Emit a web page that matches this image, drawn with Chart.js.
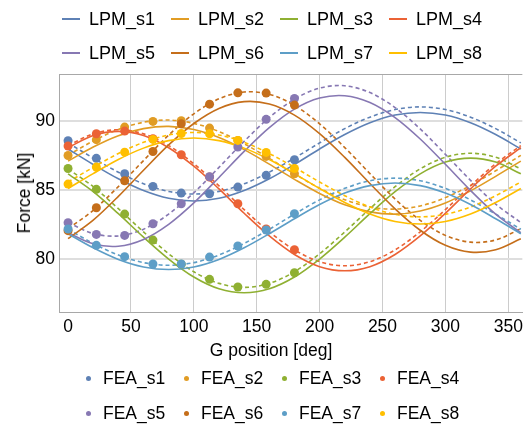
<!DOCTYPE html>
<html>
<head>
<meta charset="utf-8">
<script src="https://cdn.jsdelivr.net/npm/chart.js@4.4.1/dist/chart.umd.min.js"></script>
<style>
  html, body { margin: 0; padding: 0; background: #fff; }
  #wrap { position: relative; width: 528px; height: 426px; overflow: hidden; font-family: "Liberation Sans", Arial, sans-serif; color: #000; }
  #c { position: absolute; left: 0; top: 0; }
  .lg { position: absolute; white-space: nowrap; }
  .txt { position: absolute; height: 22px; line-height: 22px; white-space: nowrap; }
</style>
</head>
<body>
<div id="wrap">
  <canvas id="c" width="528" height="426"></canvas>
</div>
<script>
// ---------------- data ----------------
const seriesNames = ["s1", "s2", "s3", "s4", "s5", "s6", "s7", "s8"];
const colors = ["#5E81B5", "#E19C24", "#8FB032", "#EB6235", "#8778B3", "#C56E1A", "#5D9EC7", "#FFBF00"];

const xTicks = [0, 50, 100, 150, 200, 250, 300, 350];
const yTicks = [80, 85, 90];

const lineDeg = [0, 20, 40, 60, 80, 100, 120, 140, 160, 180, 200, 220, 240, 260, 280, 300, 320, 340, 360];

// LPM (solid lines)
const lpm_s1 = [87.96, 86.84, 85.80, 84.95, 84.39, 84.20, 84.39, 84.95, 85.80, 86.84, 87.96, 89.00, 89.85, 90.41, 90.60, 90.41, 89.85, 89.00, 87.96];
const lpm_s2 = [87.08, 88.10, 88.92, 89.43, 89.59, 89.36, 88.78, 87.91, 86.86, 85.76, 84.74, 83.92, 83.41, 83.25, 83.48, 84.06, 84.93, 85.98, 87.08];
const lpm_s3 = [86.16, 84.87, 83.28, 81.58, 80.00, 78.70, 77.85, 77.56, 77.85, 78.70, 80.00, 81.58, 83.28, 84.87, 86.16, 87.01, 87.30, 87.01, 86.16];
const lpm_s4 = [88.05, 88.93, 89.23, 88.93, 88.05, 86.71, 85.07, 83.31, 81.67, 80.33, 79.45, 79.15, 79.45, 80.33, 81.67, 83.31, 85.07, 86.71, 88.05];
const lpm_s5 = [81.90, 81.10, 80.93, 81.42, 82.51, 84.06, 85.90, 87.78, 89.50, 90.84, 91.64, 91.81, 91.32, 90.23, 88.68, 86.85, 84.96, 83.24, 81.90];
const lpm_s6 = [81.47, 82.81, 84.53, 86.42, 88.25, 89.80, 90.89, 91.38, 91.21, 90.41, 89.07, 87.35, 85.46, 83.63, 82.08, 80.99, 80.50, 80.67, 81.47];
const lpm_s7 = [81.83, 80.81, 79.97, 79.43, 79.24, 79.43, 79.97, 80.81, 81.83, 82.91, 83.94, 84.77, 85.31, 85.50, 85.31, 84.77, 83.94, 82.91, 81.83];
const lpm_s8 = [85.10, 86.18, 87.20, 88.02, 88.56, 88.75, 88.56, 88.02, 87.20, 86.18, 85.10, 84.09, 83.26, 82.72, 82.53, 82.72, 83.26, 84.09, 85.10];

// second curve family (dashed lines, no legend entry)
const dash_s1 = [88.40, 87.30, 86.28, 85.44, 84.89, 84.70, 84.89, 85.44, 86.28, 87.30, 88.40, 89.43, 90.26, 90.81, 91.00, 90.81, 90.26, 89.43, 88.40];
const dash_s2 = [87.50, 88.54, 89.37, 89.89, 90.05, 89.81, 89.22, 88.34, 87.28, 86.16, 85.12, 84.29, 83.77, 83.61, 83.84, 84.44, 85.32, 86.38, 87.50];
const dash_s3 = [86.52, 85.23, 83.64, 81.96, 80.38, 79.08, 78.24, 77.95, 78.24, 79.08, 80.38, 81.96, 83.64, 85.23, 86.52, 87.36, 87.65, 87.36, 86.52];
const dash_s4 = [88.20, 89.05, 89.35, 89.05, 88.20, 86.89, 85.29, 83.57, 81.97, 80.66, 79.81, 79.51, 79.81, 80.66, 81.97, 83.57, 85.29, 86.89, 88.20];
const dash_s5 = [82.64, 81.84, 81.67, 82.16, 83.25, 84.79, 86.63, 88.51, 90.23, 91.56, 92.36, 92.53, 92.04, 90.95, 89.41, 87.57, 85.69, 83.97, 82.64];
const dash_s6 = [82.19, 83.52, 85.24, 87.12, 88.96, 90.50, 91.59, 92.08, 91.91, 91.11, 89.78, 88.06, 86.18, 84.34, 82.80, 81.71, 81.22, 81.38, 82.19];
const dash_s7 = [82.15, 81.13, 80.29, 79.74, 79.55, 79.74, 80.29, 81.13, 82.15, 83.25, 84.28, 85.11, 85.66, 85.85, 85.66, 85.11, 84.28, 83.25, 82.15];
const dash_s8 = [85.57, 86.63, 87.63, 88.44, 88.97, 89.15, 88.97, 88.44, 87.63, 86.63, 85.57, 84.58, 83.76, 83.23, 83.05, 83.23, 83.76, 84.58, 85.57];

// FEA (points)
const feaDeg = [0, 22.5, 45, 67.5, 90, 112.5, 135, 157.5, 180];
const fea_s1 = [88.55, 87.28, 86.17, 85.25, 84.77, 84.72, 85.20, 86.05, 87.18];
const fea_s2 = [87.49, 88.63, 89.54, 89.95, 90.00, 89.47, 88.58, 87.42, 86.17];
const fea_s3 = [86.55, 85.04, 83.25, 81.37, 79.62, 78.53, 77.98, 78.17, 79.01];
const fea_s4 = [88.17, 89.06, 89.25, 88.70, 87.54, 85.93, 84.00, 82.17, 80.67];
const fea_s5 = [82.63, 81.78, 81.71, 82.55, 84.00, 85.95, 88.10, 90.10, 91.61];
const fea_s6 = [82.05, 83.71, 85.66, 87.78, 89.78, 91.20, 92.02, 92.00, 91.13];
const fea_s7 = [82.17, 80.99, 80.17, 79.64, 79.64, 80.14, 80.94, 82.10, 83.28];
const fea_s8 = [85.42, 86.65, 87.73, 88.65, 89.08, 89.06, 88.58, 87.71, 86.55];

const lpmAll = [lpm_s1, lpm_s2, lpm_s3, lpm_s4, lpm_s5, lpm_s6, lpm_s7, lpm_s8];
const dashAll = [dash_s1, dash_s2, dash_s3, dash_s4, dash_s5, dash_s6, dash_s7, dash_s8];
const feaAll = [fea_s1, fea_s2, fea_s3, fea_s4, fea_s5, fea_s6, fea_s7, fea_s8];

// ---------------- chart ----------------
const FONT = '"Liberation Sans", Arial, sans-serif';
const toXY = (xs, ys) => xs.map((x, i) => ({ x: x, y: ys[i] }));

const datasets = [];
seriesNames.forEach((n, i) => {
  datasets.push({
    label: "FEA_" + n, data: toXY(feaDeg, feaAll[i]),
    showLine: false, pointRadius: 4.5, pointHoverRadius: 4.5,
    backgroundColor: colors[i], borderColor: colors[i], borderWidth: 0,
    order: 20 - i
  });
});
seriesNames.forEach((n, i) => {
  datasets.push({
    label: "dash_" + n, data: toXY(lineDeg, dashAll[i]),
    showLine: true, pointRadius: 0, borderColor: colors[i], borderWidth: 1.6,
    borderDash: [4, 3], tension: 0.33, fill: false, order: 60 - i
  });
});
seriesNames.forEach((n, i) => {
  datasets.push({
    label: "LPM_" + n, data: toXY(lineDeg, lpmAll[i]),
    showLine: true, pointRadius: 0, borderColor: colors[i], borderWidth: 1.6,
    tension: 0.33, fill: false, order: 40 - i
  });
});

const framePlugin = {
  id: "frame",
  beforeDatasetsDraw(chart) {
    const { ctx, chartArea: a } = chart;
    ctx.save();
    ctx.strokeStyle = "#a8a8a8";
    ctx.lineWidth = 1;
    ctx.beginPath();
    ctx.moveTo(a.left, a.top + 0.5);
    ctx.lineTo(a.right, a.top + 0.5);
    ctx.stroke();
    ctx.restore();
  }
};

new Chart(document.getElementById("c"), {
  type: "scatter",
  data: { datasets: datasets },
  plugins: [framePlugin],
  options: {
    responsive: false,
    animation: false,
    devicePixelRatio: 1,
    layout: { padding: { top: 74, left: 0, right: 0, bottom: 0 } },
    plugins: { legend: { display: false }, tooltip: { enabled: false } },
    scales: {
      x: {
        type: "linear", min: -7.2, max: 361.2,
        afterBuildTicks: s => { s.ticks = xTicks.map(v => ({ value: v })); },
        afterFit: s => { s.height = 114; },
        ticks: { font: { family: FONT, size: 17.5 }, color: "#000", padding: 5, maxRotation: 0, autoSkip: false },
        grid: { drawTicks: false, lineWidth: 1, color: c => (c.tick && c.tick.value === 0) ? "rgba(0,0,0,0)" : "#cccccc" },
        border: { color: "#a8a8a8", width: 1 }
      },
      y: {
        type: "linear", min: 76.17, max: 93.38,
        afterBuildTicks: s => { s.ticks = yTicks.map(v => ({ value: v })); },
        afterFit: s => { s.width = 59; },
        ticks: { font: { family: FONT, size: 17.5 }, color: "#000", padding: 4 },
        grid: { drawTicks: false, lineWidth: 2, color: "#dedede" },
        border: { color: "#a8a8a8", width: 1 }
      }
    }
  }
});

// ---------------- legends & axis titles (HTML text) ----------------
const wrap = document.getElementById("wrap");
function addText(txt, left, cy, size) {
  const d = document.createElement("div");
  d.className = "txt";
  d.style.left = left + "px";
  d.style.top = (cy - 11) + "px";
  d.style.fontSize = size + "px";
  d.textContent = txt;
  wrap.appendChild(d);
  return d;
}
seriesNames.forEach((n, i) => {
  const col = i % 4, row = Math.floor(i / 4);
  // top legend: LPM lines
  const x0 = 62 + col * 109, y0 = 19 + row * 34;
  const ln = document.createElement("div");
  ln.className = "lg";
  ln.style.left = x0 + "px"; ln.style.top = (y0 - 0.75) + "px";
  ln.style.width = "18px"; ln.style.height = "1.6px"; ln.style.background = colors[i];
  wrap.appendChild(ln);
  addText("LPM_" + n, x0 + 27, y0, 18);
  // bottom legend: FEA points
  const x1 = 88 + col * 98, y1 = 378 + row * 35;
  const dot = document.createElement("div");
  dot.className = "lg";
  dot.style.left = (x1 - 2.5) + "px"; dot.style.top = (y1 - 2.5) + "px";
  dot.style.width = "5px"; dot.style.height = "5px"; dot.style.borderRadius = "50%";
  dot.style.background = colors[i];
  wrap.appendChild(dot);
  addText("FEA_" + n, x1 + 15, y1, 17.5);
});

// x-axis title
const xt = addText("G position [deg]", 0, 350, 17.5);
xt.style.left = "271px"; xt.style.transform = "translateX(-50%)";
// y-axis title
const yt = addText("Force [kN]", 0, 192.5, 17.5);
yt.style.left = "24px"; yt.style.transform = "translateX(-50%) rotate(-90deg)";
</script>
</body>
</html>
